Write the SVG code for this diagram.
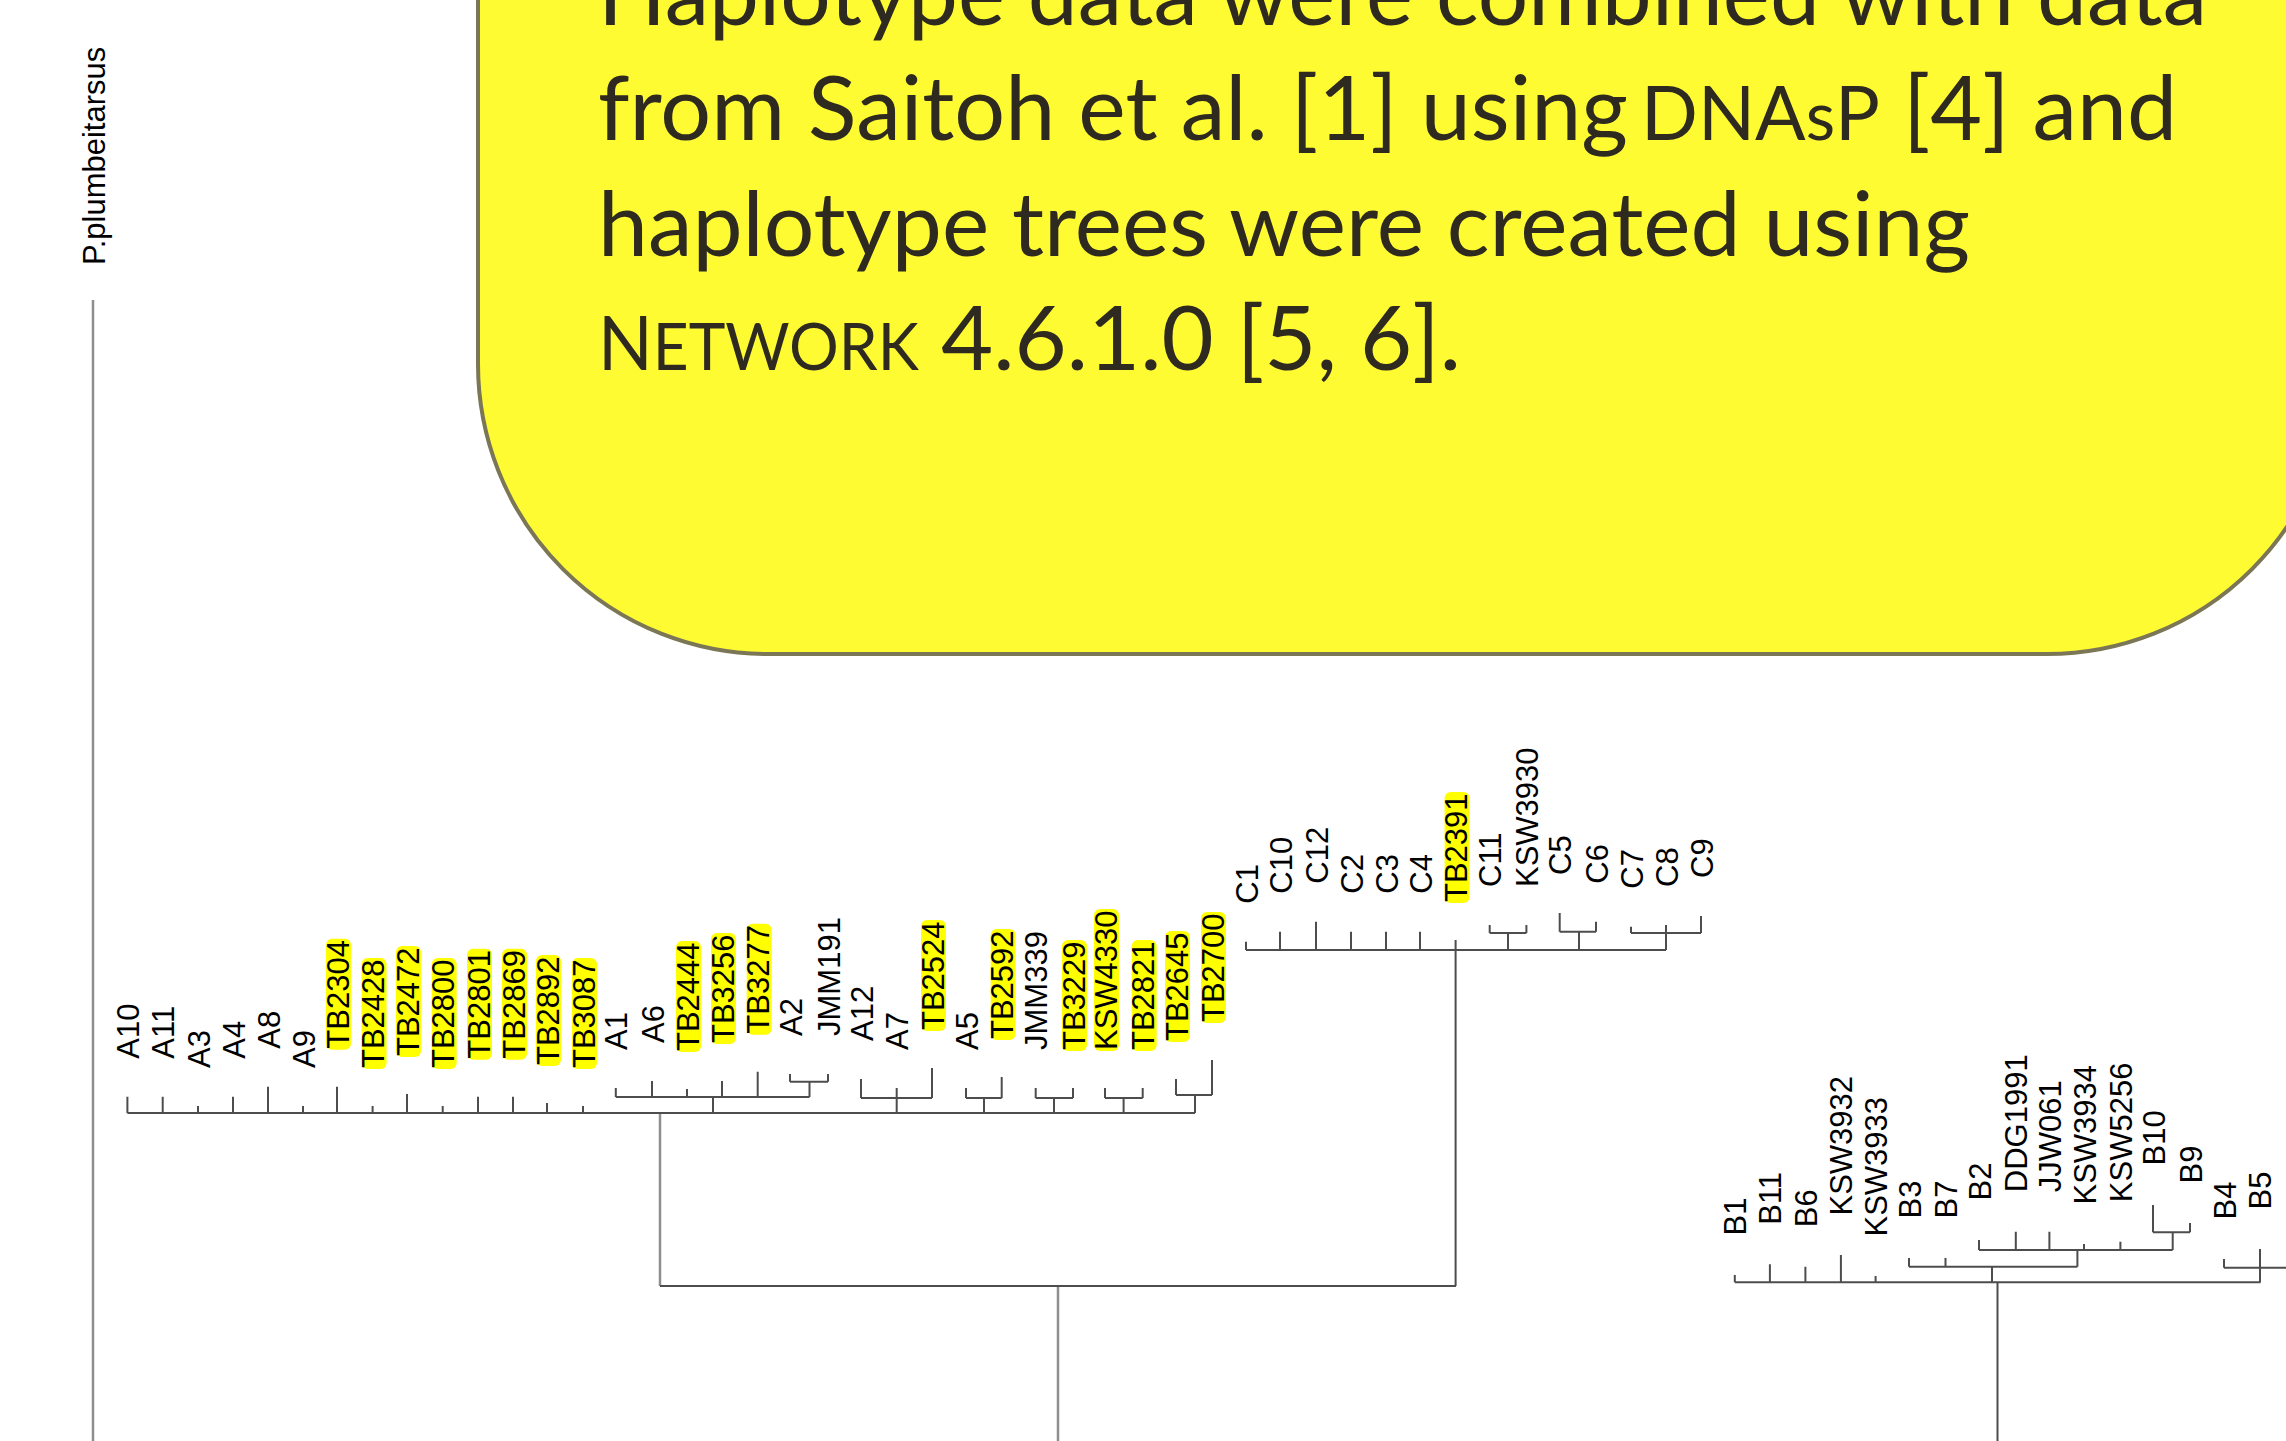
<svg xmlns="http://www.w3.org/2000/svg" width="2286" height="1441" viewBox="0 0 2286 1441">
<style>
.bg{fill:#ffffff}
.note{fill:#FFFB33;stroke:#7a7656;stroke-width:4}
.nt{font-family:Lato,"Open Sans",sans-serif;font-size:89px;fill:#2e2a20}
.lb{font-family:"Liberation Sans",Arial,sans-serif;font-size:31px;fill:#000}
.hl{fill:#FFFF00}
.ln{fill:none;stroke:#4d4d4d;stroke-width:2}
.lt{fill:none;stroke:#8e8e8e;stroke-width:2.5}
</style>
<rect class="bg" x="0" y="0" width="2286" height="1441"/>

<g id="note">
<rect class="note" x="478" y="-700" width="1859" height="1354" rx="290" ry="290"/>
<text class="nt" x="598" y="25" textLength="1609" lengthAdjust="spacingAndGlyphs">Haplotype data were combined with data</text>
<text class="nt" x="598" y="140" textLength="1030" lengthAdjust="spacingAndGlyphs">from Saitoh et al. [1] using</text>
<text class="nt" x="1641" y="140" textLength="239" lengthAdjust="spacingAndGlyphs"><tspan font-size="75">DNA</tspan><tspan font-size="68">s</tspan><tspan font-size="75">P</tspan></text>
<text class="nt" x="1903" y="140" textLength="274" lengthAdjust="spacingAndGlyphs">[4] and</text>
<text class="nt" x="598" y="256" textLength="1372" lengthAdjust="spacingAndGlyphs">haplotype trees were created using</text>
<text class="nt" x="598" y="370" textLength="321" lengthAdjust="spacingAndGlyphs"><tspan font-size="75">N</tspan><tspan font-size="65">ETWORK</tspan></text>
<text class="nt" x="941" y="370" textLength="520" lengthAdjust="spacingAndGlyphs">4.6.1.0 [5, 6].</text>
</g>

<g id="connectors">
<path class="lt" d="M93,300V1441 M660,1113V1286 M1058,1286V1441"/>
<path class="ln" d="M660,1286H1456"/>
<!-- A cluster -->
<path class="ln" d="M127.4,1113H1195
M127.4,1113V1096.7 M162.7,1113V1096.7 M198,1113V1106 M233,1113V1096.7 M268,1113V1086.7 M303,1113V1106 M337,1113V1086.7 M372.6,1113V1106 M407,1113V1094 M442.7,1113V1106 M478,1113V1096.7 M513,1113V1096.7 M547,1113V1103 M583,1113V1106
M713,1113V1097 M615.8,1097H809.5 M615.8,1097V1088 M652,1097V1081 M687,1097V1089 M722,1097V1081 M757.7,1097V1071.7 M809.5,1097V1081.7 M790,1081.7H828 M790,1081.7V1074 M828,1081.7V1074
M896.7,1113V1098 M861,1098H932 M861,1098V1079 M896.7,1098V1088 M932,1098V1068
M984,1113V1098 M966,1098H1001.7 M966,1098V1088 M1001.7,1098V1077
M1054,1113V1098 M1035.7,1098H1073 M1035.7,1098V1088 M1073,1098V1088
M1123.6,1113V1098 M1105,1098H1142.7 M1105,1098V1088 M1142.7,1098V1088
M1195,1113V1095 M1176,1095H1212 M1176,1095V1079 M1212,1095V1060"/>
<!-- C cluster -->
<path class="ln" d="M1455.6,950V1286 M1246,950H1666
M1246,950V941.7 M1280,950V931.7 M1316,950V921.7 M1351,950V931.7 M1386,950V931.7 M1420,950V931.7 M1455.6,950V940
M1508,950V933 M1489.7,933H1526.4 M1489.7,933V925 M1526.4,933V925
M1579,950V931.7 M1559.7,931.7H1596 M1559.7,931.7V913 M1596,931.7V921.7
M1666,950V933 M1631,933H1701 M1631,933V926.7 M1666,933V925 M1701,933V916"/>
<!-- B cluster -->
<path class="ln" d="M1997.5,1282.3V1441 M1734.8,1282.3H2260.5
M1734.8,1282.3V1275 M1769.9,1282.3V1264.3 M1805.4,1282.3V1266.7 M1840.9,1282.3V1255 M1875.6,1282.3V1276
M1992,1282.3V1266.7 M1909,1266.7H2077.4 M1909,1266.7V1258 M1945.5,1266.7V1258 M2077.4,1266.7V1250
M1979,1250H2172.7 M1979,1250V1240 M2015.8,1250V1231.7 M2049.4,1250V1231.7 M2084,1250V1244 M2120.4,1250V1241.7 M2172.7,1250V1232.3
M2153,1232.3H2190 M2153,1232.3V1205 M2190,1232.3V1223
M2260,1282.3V1267.7 M2224,1267.7H2286 M2224,1267.7V1259 M2260,1267.7V1249"/>
</g>

<g id="leaf-Pplumbeitarsus" transform="translate(105,265) rotate(-90)"><text class="lb">P.plumbeitarsus</text></g>

<g id="leaf-A10" transform="translate(138.9,1058.7) rotate(-90)"><text class="lb">A10</text></g>
<g id="leaf-A11" transform="translate(174.2,1058.7) rotate(-90)"><text class="lb">A11</text></g>
<g id="leaf-A3" transform="translate(209.5,1068) rotate(-90)"><text class="lb">A3</text></g>
<g id="leaf-A4" transform="translate(244.5,1058.7) rotate(-90)"><text class="lb">A4</text></g>
<g id="leaf-A8" transform="translate(279.5,1048.7) rotate(-90)"><text class="lb">A8</text></g>
<g id="leaf-A9" transform="translate(314.5,1068) rotate(-90)"><text class="lb">A9</text></g>
<g id="leaf-TB2304" transform="translate(348.5,1048.7) rotate(-90)"><rect class="hl" x="-1" y="-22.5" width="111" height="25" rx="6"/><text class="lb">TB2304</text></g>
<g id="leaf-TB2428" transform="translate(384.1,1068) rotate(-90)"><rect class="hl" x="-1" y="-22.5" width="111" height="25" rx="6"/><text class="lb">TB2428</text></g>
<g id="leaf-TB2472" transform="translate(418.5,1056) rotate(-90)"><rect class="hl" x="-1" y="-22.5" width="111" height="25" rx="6"/><text class="lb">TB2472</text></g>
<g id="leaf-TB2800" transform="translate(454.2,1068) rotate(-90)"><rect class="hl" x="-1" y="-22.5" width="111" height="25" rx="6"/><text class="lb">TB2800</text></g>
<g id="leaf-TB2801" transform="translate(489.5,1058.7) rotate(-90)"><rect class="hl" x="-1" y="-22.5" width="111" height="25" rx="6"/><text class="lb">TB2801</text></g>
<g id="leaf-TB2869" transform="translate(524.5,1058.7) rotate(-90)"><rect class="hl" x="-1" y="-22.5" width="111" height="25" rx="6"/><text class="lb">TB2869</text></g>
<g id="leaf-TB2892" transform="translate(558.5,1065) rotate(-90)"><rect class="hl" x="-1" y="-22.5" width="111" height="25" rx="6"/><text class="lb">TB2892</text></g>
<g id="leaf-TB3087" transform="translate(594.5,1068) rotate(-90)"><rect class="hl" x="-1" y="-22.5" width="111" height="25" rx="6"/><text class="lb">TB3087</text></g>
<g id="leaf-A1" transform="translate(627.3,1050) rotate(-90)"><text class="lb">A1</text></g>
<g id="leaf-A6" transform="translate(663.5,1043) rotate(-90)"><text class="lb">A6</text></g>
<g id="leaf-TB2444" transform="translate(698.5,1051) rotate(-90)"><rect class="hl" x="-1" y="-22.5" width="111" height="25" rx="6"/><text class="lb">TB2444</text></g>
<g id="leaf-TB3256" transform="translate(733.5,1043) rotate(-90)"><rect class="hl" x="-1" y="-22.5" width="111" height="25" rx="6"/><text class="lb">TB3256</text></g>
<g id="leaf-TB3277" transform="translate(769.2,1033.7) rotate(-90)"><rect class="hl" x="-1" y="-22.5" width="111" height="25" rx="6"/><text class="lb">TB3277</text></g>
<g id="leaf-A2" transform="translate(801.5,1036) rotate(-90)"><text class="lb">A2</text></g>
<g id="leaf-JMM191" transform="translate(839.5,1036) rotate(-90)"><text class="lb">JMM191</text></g>
<g id="leaf-A12" transform="translate(872.5,1041) rotate(-90)"><text class="lb">A12</text></g>
<g id="leaf-A7" transform="translate(908.2,1050) rotate(-90)"><text class="lb">A7</text></g>
<g id="leaf-TB2524" transform="translate(943.5,1030) rotate(-90)"><rect class="hl" x="-1" y="-22.5" width="111" height="25" rx="6"/><text class="lb">TB2524</text></g>
<g id="leaf-A5" transform="translate(977.5,1050) rotate(-90)"><text class="lb">A5</text></g>
<g id="leaf-TB2592" transform="translate(1013.2,1039) rotate(-90)"><rect class="hl" x="-1" y="-22.5" width="111" height="25" rx="6"/><text class="lb">TB2592</text></g>
<g id="leaf-JMM339" transform="translate(1047.2,1050) rotate(-90)"><text class="lb">JMM339</text></g>
<g id="leaf-TB3229" transform="translate(1084.5,1050) rotate(-90)"><rect class="hl" x="-1" y="-22.5" width="111" height="25" rx="6"/><text class="lb">TB3229</text></g>
<g id="leaf-KSW4330" transform="translate(1116.5,1050) rotate(-90)"><rect class="hl" x="-1" y="-22.5" width="142" height="25" rx="6"/><text class="lb">KSW4330</text></g>
<g id="leaf-TB2821" transform="translate(1154.2,1050) rotate(-90)"><rect class="hl" x="-1" y="-22.5" width="111" height="25" rx="6"/><text class="lb">TB2821</text></g>
<g id="leaf-TB2645" transform="translate(1187.5,1041) rotate(-90)"><rect class="hl" x="-1" y="-22.5" width="111" height="25" rx="6"/><text class="lb">TB2645</text></g>
<g id="leaf-TB2700" transform="translate(1223.5,1022) rotate(-90)"><rect class="hl" x="-1" y="-22.5" width="111" height="25" rx="6"/><text class="lb">TB2700</text></g>

<g id="leaf-C1" transform="translate(1257.5,903.7) rotate(-90)"><text class="lb">C1</text></g>
<g id="leaf-C10" transform="translate(1291.5,893.7) rotate(-90)"><text class="lb">C10</text></g>
<g id="leaf-C12" transform="translate(1327.5,883.7) rotate(-90)"><text class="lb">C12</text></g>
<g id="leaf-C2" transform="translate(1362.5,893.7) rotate(-90)"><text class="lb">C2</text></g>
<g id="leaf-C3" transform="translate(1397.5,893.7) rotate(-90)"><text class="lb">C3</text></g>
<g id="leaf-C4" transform="translate(1431.5,893.7) rotate(-90)"><text class="lb">C4</text></g>
<g id="leaf-TB2391" transform="translate(1467.1,902) rotate(-90)"><rect class="hl" x="-1" y="-22.5" width="111" height="25" rx="6"/><text class="lb">TB2391</text></g>
<g id="leaf-C11" transform="translate(1501.2,887) rotate(-90)"><text class="lb">C11</text></g>
<g id="leaf-KSW3930" transform="translate(1537.9,887) rotate(-90)"><text class="lb">KSW3930</text></g>
<g id="leaf-C5" transform="translate(1571.2,875) rotate(-90)"><text class="lb">C5</text></g>
<g id="leaf-C6" transform="translate(1607.5,883.7) rotate(-90)"><text class="lb">C6</text></g>
<g id="leaf-C7" transform="translate(1642.5,888.7) rotate(-90)"><text class="lb">C7</text></g>
<g id="leaf-C8" transform="translate(1677.5,887) rotate(-90)"><text class="lb">C8</text></g>
<g id="leaf-C9" transform="translate(1712.5,878) rotate(-90)"><text class="lb">C9</text></g>

<g id="leaf-B1" transform="translate(1746.3,1235.5) rotate(-90)"><text class="lb">B1</text></g>
<g id="leaf-B11" transform="translate(1781.4,1224.8) rotate(-90)"><text class="lb">B11</text></g>
<g id="leaf-B6" transform="translate(1816.9,1227.2) rotate(-90)"><text class="lb">B6</text></g>
<g id="leaf-KSW3932" transform="translate(1852.4,1215.5) rotate(-90)"><text class="lb">KSW3932</text></g>
<g id="leaf-KSW3933" transform="translate(1887.1,1236.5) rotate(-90)"><text class="lb">KSW3933</text></g>
<g id="leaf-B3" transform="translate(1920.5,1218.5) rotate(-90)"><text class="lb">B3</text></g>
<g id="leaf-B7" transform="translate(1957,1218.5) rotate(-90)"><text class="lb">B7</text></g>
<g id="leaf-B2" transform="translate(1990.5,1200.5) rotate(-90)"><text class="lb">B2</text></g>
<g id="leaf-DDG1991" transform="translate(2027.3,1192.2) rotate(-90)"><text class="lb">DDG1991</text></g>
<g id="leaf-JJW061" transform="translate(2060.9,1192.2) rotate(-90)"><text class="lb">JJW061</text></g>
<g id="leaf-KSW3934" transform="translate(2095.5,1204.5) rotate(-90)"><text class="lb">KSW3934</text></g>
<g id="leaf-KSW5256" transform="translate(2131.9,1202.2) rotate(-90)"><text class="lb">KSW5256</text></g>
<g id="leaf-B10" transform="translate(2164.5,1165.5) rotate(-90)"><text class="lb">B10</text></g>
<g id="leaf-B9" transform="translate(2201.5,1183.5) rotate(-90)"><text class="lb">B9</text></g>
<g id="leaf-B4" transform="translate(2235.5,1219.5) rotate(-90)"><text class="lb">B4</text></g>
<g id="leaf-B5" transform="translate(2271.3,1209.5) rotate(-90)"><text class="lb">B5</text></g>
</svg>
